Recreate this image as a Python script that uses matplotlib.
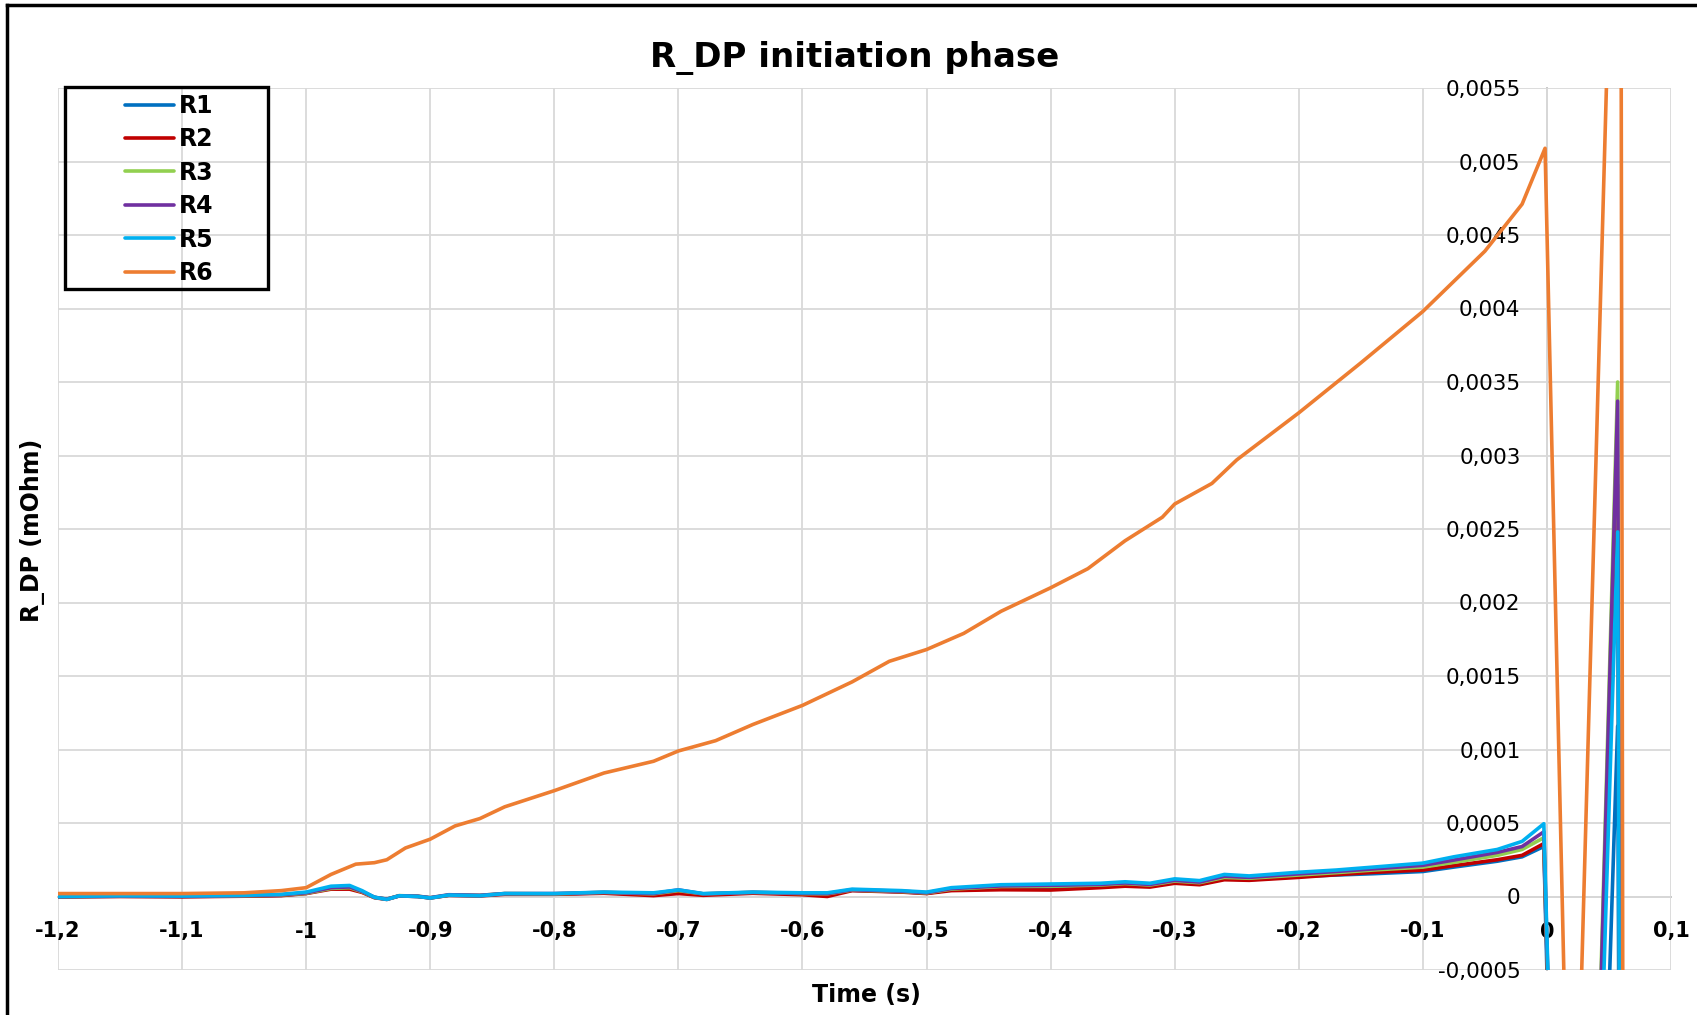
import matplotlib
matplotlib.use("Agg")
from matplotlib import pyplot as plt
from matplotlib.lines import Line2D
from matplotlib.patches import Rectangle
from matplotlib.ticker import FixedLocator, FuncFormatter

# time axis shared by R1..R5 (s)
t_low = [-1.2, -1.15, -1.1, -1.05, -1.02, -1.0, -0.98, -0.965, -0.955, -0.945,
         -0.935, -0.925, -0.91, -0.9, -0.885, -0.86, -0.84, -0.8, -0.76, -0.72,
         -0.7, -0.68, -0.64, -0.6, -0.58, -0.56, -0.52, -0.5, -0.48, -0.44,
         -0.4, -0.36, -0.34, -0.32, -0.3, -0.28, -0.26, -0.24, -0.2, -0.17,
         -0.14, -0.1, -0.075, -0.04, -0.02, -0.0025, 0.022, 0.057, 0.0605]

r1 = [-0.3e-5, 0.2e-5, 0.0, 0.4e-5, 0.8e-5, 2.2e-5, 5.5e-5, 6.0e-5, 3.2e-5, -0.6e-5,
      -1.8e-5, 0.4e-5, 0.0, -1.0e-5, 0.8e-5, 0.6e-5, 1.8e-5, 1.6e-5, 2.5e-5, 1.5e-5,
      3.2e-5, 1.6e-5, 2.6e-5, 1.8e-5, 1.5e-5, 4.2e-5, 3.2e-5, 2.2e-5, 4.6e-5, 6.0e-5,
      6.2e-5, 7.0e-5, 8.0e-5, 7.0e-5, 9.6e-5, 8.4e-5, 12.0e-5, 11.4e-5, 13.6e-5, 14.6e-5,
      15.5e-5, 17.0e-5, 20.0e-5, 24.0e-5, 27.0e-5, 34.0e-5, -800e-5, 116e-5, -600e-5]
r2 = [-0.2e-5, 0.0, -0.2e-5, 0.2e-5, 0.6e-5, 2.0e-5, 5.0e-5, 5.0e-5, 2.8e-5, -0.8e-5,
      -2.0e-5, 0.4e-5, 0.0, -1.0e-5, 0.8e-5, 0.4e-5, 1.5e-5, 1.5e-5, 2.2e-5, 0.6e-5,
      2.0e-5, 0.8e-5, 2.2e-5, 1.2e-5, 0.0, 4.0e-5, 3.0e-5, 2.0e-5, 4.0e-5, 4.6e-5,
      4.4e-5, 6.0e-5, 7.0e-5, 6.4e-5, 9.0e-5, 8.0e-5, 11.4e-5, 11.0e-5, 13.0e-5, 14.8e-5,
      16.4e-5, 18.0e-5, 21.0e-5, 25.0e-5, 28.0e-5, 36.0e-5, -700e-5, 280e-5, -600e-5]
r3 = [0.0, 0.3e-5, 0.2e-5, 0.5e-5, 1.0e-5, 2.2e-5, 5.5e-5, 6.0e-5, 3.2e-5, -0.6e-5,
      -1.8e-5, 0.6e-5, 0.2e-5, -0.8e-5, 1.0e-5, 0.8e-5, 2.0e-5, 1.8e-5, 2.8e-5, 1.8e-5,
      4.0e-5, 1.8e-5, 2.8e-5, 2.0e-5, 1.8e-5, 4.4e-5, 3.4e-5, 2.4e-5, 5.0e-5, 6.8e-5,
      7.0e-5, 7.8e-5, 8.8e-5, 7.8e-5, 10.5e-5, 9.4e-5, 13.0e-5, 12.4e-5, 14.6e-5, 16.2e-5,
      18.0e-5, 20.0e-5, 23.2e-5, 28.0e-5, 32.0e-5, 40.0e-5, -700e-5, 350e-5, -600e-5]
r4 = [0.0, 0.4e-5, 0.2e-5, 0.6e-5, 1.2e-5, 2.5e-5, 6.0e-5, 6.5e-5, 3.5e-5, -0.5e-5,
      -1.8e-5, 0.5e-5, 0.2e-5, -0.8e-5, 1.2e-5, 0.8e-5, 2.0e-5, 2.0e-5, 2.8e-5, 2.0e-5,
      4.5e-5, 1.8e-5, 2.8e-5, 2.2e-5, 2.0e-5, 4.6e-5, 3.6e-5, 2.6e-5, 5.4e-5, 7.2e-5,
      7.6e-5, 8.2e-5, 9.2e-5, 8.2e-5, 11.0e-5, 9.8e-5, 13.8e-5, 13.0e-5, 15.4e-5, 17.0e-5,
      18.8e-5, 21.2e-5, 24.8e-5, 30.0e-5, 34.0e-5, 44.0e-5, -700e-5, 337e-5, -600e-5]
r5 = [0.0, 0.5e-5, 0.3e-5, 0.8e-5, 1.5e-5, 3.0e-5, 7.0e-5, 7.5e-5, 4.0e-5, -0.5e-5,
      -2.0e-5, 0.5e-5, 0.0, -1.0e-5, 1.0e-5, 0.5e-5, 2.0e-5, 2.0e-5, 3.0e-5, 2.5e-5,
      4.5e-5, 2.0e-5, 3.0e-5, 2.5e-5, 2.5e-5, 5.0e-5, 4.0e-5, 3.0e-5, 6.0e-5, 8.0e-5,
      8.5e-5, 9.0e-5, 10.0e-5, 9.0e-5, 12.0e-5, 10.8e-5, 15.0e-5, 14.0e-5, 16.5e-5, 18.0e-5,
      20.0e-5, 22.7e-5, 27.0e-5, 32.0e-5, 37.5e-5, 49.5e-5, -700e-5, 248e-5, -600e-5]

# R6 has its own sampling
t_r6 = [-1.2, -1.15, -1.1, -1.05, -1.02, -1.0, -0.98, -0.96, -0.945, -0.935,
        -0.92, -0.9, -0.88, -0.86, -0.84, -0.8, -0.76, -0.72, -0.7, -0.67,
        -0.64, -0.6, -0.56, -0.53, -0.5, -0.47, -0.44, -0.4, -0.37, -0.34,
        -0.31, -0.3, -0.27, -0.25, -0.2, -0.15, -0.1, -0.05, -0.02, -0.0015,
        0.0201, 0.0592, 0.0625]
r6 = [2.0e-5, 2.0e-5, 2.0e-5, 2.5e-5, 4.0e-5, 6.0e-5, 15.0e-5, 22.0e-5, 23.0e-5, 25.0e-5,
      33.0e-5, 39.0e-5, 48.0e-5, 53.0e-5, 61.0e-5, 72.0e-5, 84.0e-5, 92.0e-5, 99.0e-5, 106.0e-5,
      117.0e-5, 130.0e-5, 146.0e-5, 160.0e-5, 168.0e-5, 179.0e-5, 194.0e-5, 210.0e-5, 223.0e-5, 242.0e-5,
      258.0e-5, 267.0e-5, 281.0e-5, 297.0e-5, 329.0e-5, 363.0e-5, 398.0e-5, 439.0e-5, 471.0e-5, 509.0e-5,
      -290e-5, 890e-5, -740e-5]

names = ["R1", "R2", "R3", "R4", "R5"]
colors = ["#0070c0", "#c00000", "#92d050", "#7030a0", "#00b0f0", "#ed7d31"]

x_ticks = [-1.2, -1.1, -1.0, -0.9, -0.8, -0.7, -0.6, -0.5, -0.4, -0.3, -0.2, -0.1, 0.0, 0.1]
y_ticks = [-0.0005, 0.0, 0.0005, 0.001, 0.0015, 0.002, 0.0025, 0.003,
           0.0035, 0.004, 0.0045, 0.005, 0.0055]


def comma_fmt(v, pos=None):
    s = "%g" % round(v, 6)
    if s == "-0":
        s = "0"
    return s.replace(".", ",")


fig = plt.figure(figsize=(16.97, 10.15), dpi=100)
ax = fig.add_axes([58 / 1697, 1 - 970 / 1015, (1671 - 58) / 1697, (970 - 88) / 1015])

lines = []
for name, vals, c in zip(names, [r1, r2, r3, r4, r5], colors):
    ln, = ax.plot(t_low, vals, color=c, lw=2.6, label=name,
                  solid_joinstyle="round", solid_capstyle="round")
    lines.append(ln)
ln, = ax.plot(t_r6, r6, color=colors[5], lw=2.6, label="R6",
              solid_joinstyle="round", solid_capstyle="round")
lines.append(ln)

ax.set_xlim(-1.2, 0.1)
ax.set_ylim(-0.0005, 0.0055)

# axes cross at zero, like a spreadsheet chart
ax.spines["left"].set_position(("data", 0))
ax.spines["bottom"].set_position(("data", 0))
ax.spines["right"].set_visible(False)
ax.spines["top"].set_visible(False)
for s in ("left", "bottom"):
    ax.spines[s].set_color("#bfbfbf")
    ax.spines[s].set_linewidth(1.3)
    ax.spines[s].set_zorder(0.5)

ax.xaxis.set_major_locator(FixedLocator(x_ticks))
ax.yaxis.set_major_locator(FixedLocator(y_ticks))
ax.xaxis.set_major_formatter(FuncFormatter(comma_fmt))
ax.yaxis.set_major_formatter(FuncFormatter(comma_fmt))
ax.tick_params(axis="x", length=0, pad=18, labelsize=15)
ax.tick_params(axis="y", length=0, pad=19, labelsize=15.5)
for lbl in ax.get_xticklabels():
    lbl.set_fontweight("bold")

ax.grid(True, color="#d9d9d9", lw=1.3)
ax.set_axisbelow(True)

fig.text(855 / 1697, 1 - 58 / 1015, "R_DP initiation phase", ha="center", va="center",
         fontsize=24.5, fontweight="bold")
fig.text(866 / 1697, 1 - 995 / 1015, "Time (s)", ha="center", va="center",
         fontsize=17, fontweight="bold")
fig.text(33 / 1697, 1 - 530 / 1015, "R_DP (mOhm)", ha="center", va="center",
         rotation=90, fontsize=17, fontweight="bold")

# legend entries without frame, box drawn separately
leg = fig.legend(handles=lines, loc="upper left", bbox_to_anchor=(113 / 1697, 1 - 82 / 1015),
                 frameon=False, prop={"weight": "bold", "size": 17},
                 handlelength=2.1, handletextpad=0.2, labelspacing=0.4, borderpad=0.0)
fig.patches.append(Rectangle((65 / 1697, 1 - 289 / 1015), 203 / 1697, 202 / 1015,
                             transform=fig.transFigure, fill=False, ec="black", lw=2.4))

# outer frame on left and top
fig.lines.append(Line2D([7 / 1697, 7 / 1697], [0, 1 - 5 / 1015], transform=fig.transFigure,
                        color="black", lw=2.5))
fig.lines.append(Line2D([7 / 1697, 1], [1 - 5 / 1015, 1 - 5 / 1015], transform=fig.transFigure,
                        color="black", lw=2.5))

fig.savefig("out.png", dpi=100)
